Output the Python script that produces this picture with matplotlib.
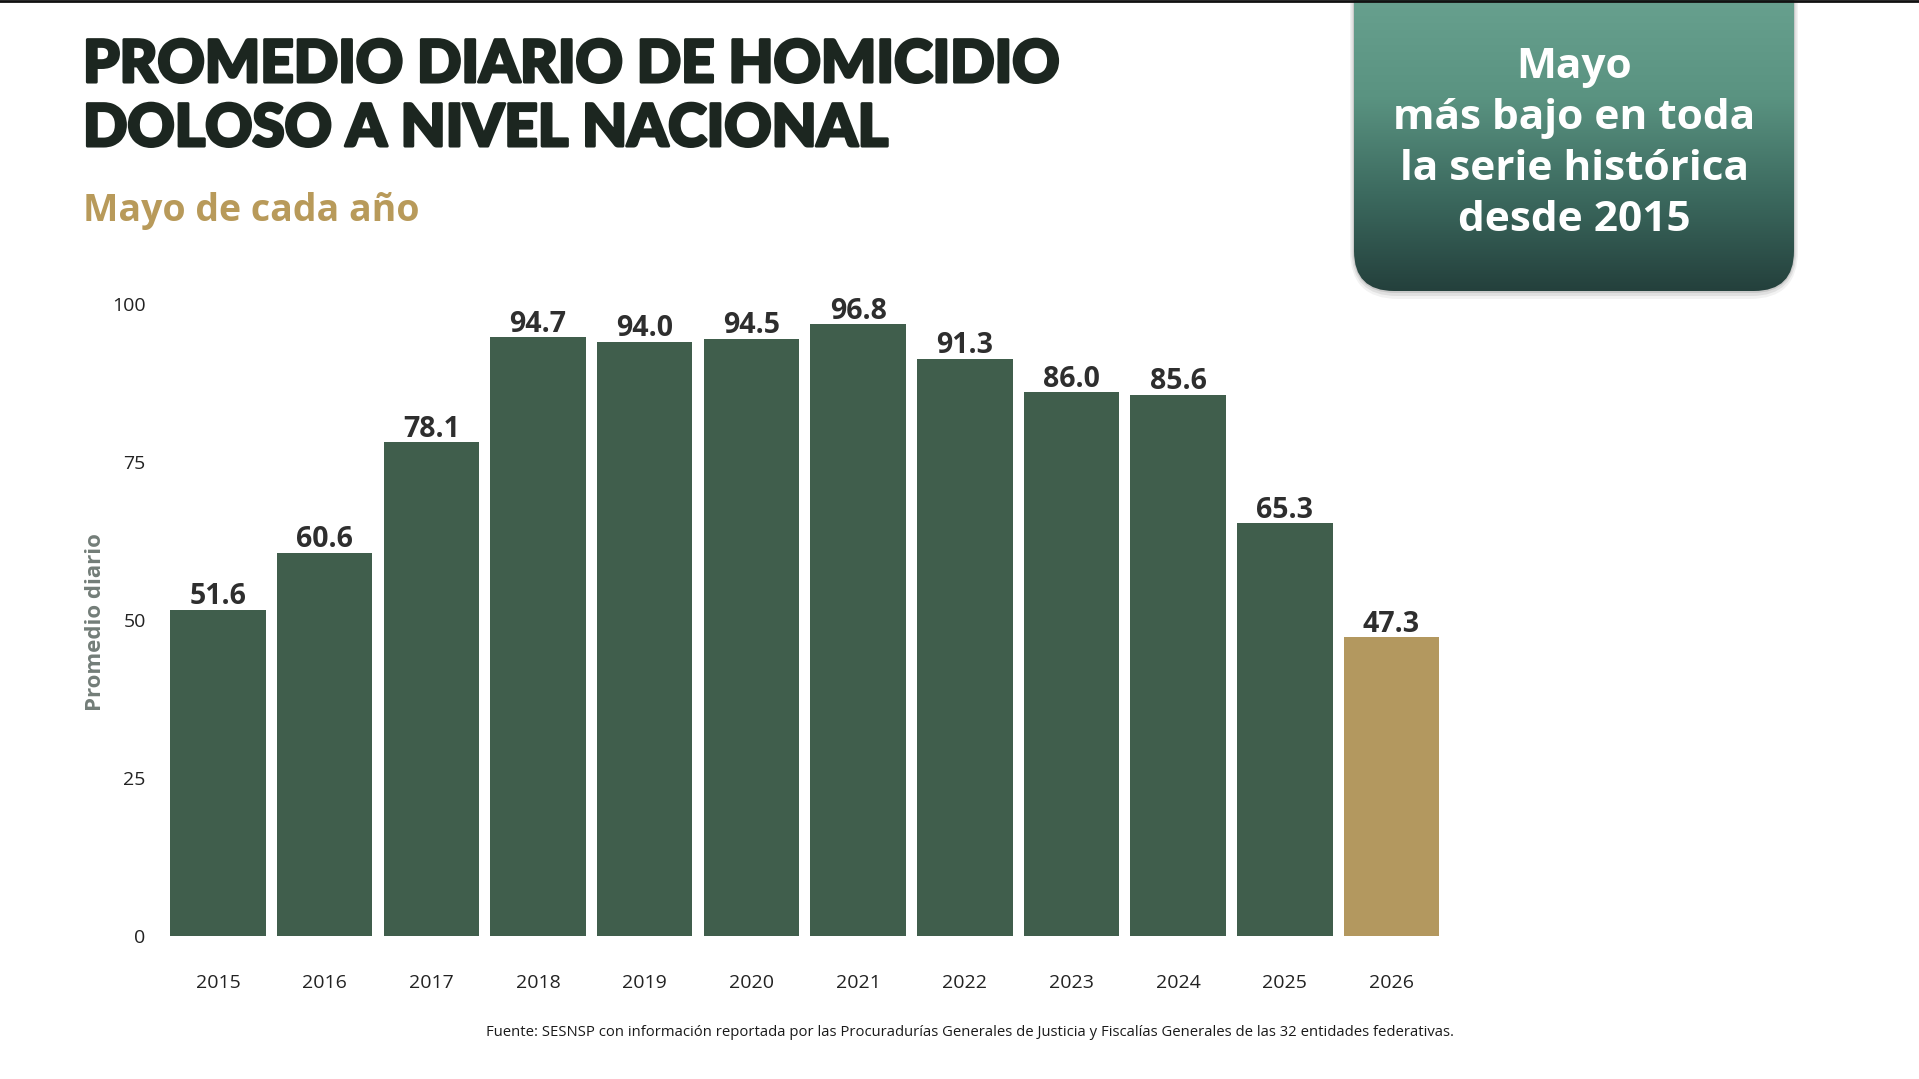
import numpy as np
import matplotlib
matplotlib.use("Agg")
import matplotlib.pyplot as plt
from matplotlib.patches import FancyBboxPatch
from matplotlib.lines import Line2D
from matplotlib.colors import LinearSegmentedColormap
import matplotlib.patheffects as pe

# ---- data ----
years = ["2015", "2016", "2017", "2018", "2019", "2020", "2021", "2022", "2023", "2024", "2025", "2026"]
values = [51.6, 60.6, 78.1, 94.7, 94.0, 94.5, 96.8, 91.3, 86.0, 85.6, 65.3, 47.3]
yticks = [0, 25, 50, 75, 100]

title_lines = ["PROMEDIO DIARIO DE HOMICIDIO", "DOLOSO A NIVEL NACIONAL"]
subtitle = "Mayo de cada año"
box_lines = ["Mayo", "más bajo en toda", "la serie histórica", "desde 2015"]
ylabel = "Promedio diario"
source = ("Fuente: SESNSP con información reportada por las Procuradurías Generales de "
          "Justicia y Fiscalías Generales de las 32 entidades federativas.")

GREEN = "#405e4c"
GOLD = "#b3985f"
W, H = 1919, 1079

plt.rcParams['font.family'] = ['Open Sans', 'DejaVu Sans']
fig = plt.figure(figsize=(W / 100, H / 100), dpi=100)
fig.patch.set_facecolor("white")

# ---- main axes ----
x0, x1 = -0.6, 11.6
pitch = (1391.5 - 218) / 11
left_px = 218 + x0 * pitch
right_px = 218 + x1 * pitch
bot_px, top_px = 936, 304
ax = fig.add_axes([left_px / W, 1 - bot_px / H, (right_px - left_px) / W, (bot_px - top_px) / H])
colors = [GREEN] * (len(values) - 1) + [GOLD]
xs = np.arange(len(years))
ax.bar(xs, values, width=0.895, color=colors, zorder=2)
ax.set_xlim(x0, x1)
ax.set_ylim(0, 100)
ax.set_xticks(xs)
ax.set_xticklabels(years, fontsize=14, color="#222222")
ax.set_yticks(yticks)
ax.set_yticklabels([str(t) for t in yticks], fontsize=14, color="#222222")
ax.tick_params(axis="x", length=0, pad=27.5)
ax.tick_params(axis="y", length=0, pad=6)
for s in ax.spines.values():
    s.set_visible(False)
ax.set_facecolor("none")
for xi, v in zip(xs, values):
    ax.annotate(f"{v:.1f}", (xi, v), xytext=(0, 4), textcoords="offset points",
                ha="center", va="baseline", fontsize=20.5, fontweight="bold", color="#2e2e2e")

fig.text(95 / W, 1 - 622 / H, ylabel, rotation=90, ha="center", va="center",
         fontsize=16, fontweight="bold", color="#737d78")

# ---- titles ----
for i, line in enumerate(title_lines):
    fig.text(83 / W, 1 - (82 + 64 * i) / H, line, ha="left", va="baseline",
             fontsize=42, fontweight="black", color="#1c2620",
             family=["Lato", "DejaVu Sans"],
             path_effects=[pe.withStroke(linewidth=2.2, foreground="#1c2620")])
fig.text(83 / W, 1 - 221.5 / H, subtitle, ha="left", va="baseline",
         fontsize=27, fontweight="bold", color="#b89a5a")

fig.text(970 / W, 1 - 1032 / H, source, ha="center", va="center", fontsize=10.7, color="#1a1a1a")

# top border line
fig.add_artist(Line2D([0, 1], [1 - 1 / H, 1 - 1 / H], transform=fig.transFigure,
                      color="#111111", linewidth=2))

# ---- gradient box ----
bx0, bx1, by1 = 1354, 1794, 291
bw, bh = bx1 - bx0, by1
pad = 12
bax = fig.add_axes([(bx0 - pad) / W, 1 - (bh + pad) / H, (bw + 2 * pad) / W, (bh + pad) / H])
bax.set_xlim(-pad, bw + pad)
bax.set_ylim(-pad, bh)
bax.axis("off")
# shadow
for k, a in [(8, 0.05), (5, 0.07), (2, 0.1)]:
    sh = FancyBboxPatch((-k / 2, -k), bw + k, bh + 60, boxstyle=f"round,pad=0,rounding_size={40 + k}",
                        facecolor="#000000", edgecolor="none", alpha=a)
    bax.add_patch(sh)
clip = FancyBboxPatch((0, 0), bw, bh + 60, boxstyle="round,pad=0,rounding_size=40",
                      facecolor="none", edgecolor="none")
bax.add_patch(clip)
cmap = LinearSegmentedColormap.from_list("g", ["#24403c", "#3c6a5f", "#5a9381", "#67a08e"])
grad = np.linspace(0, 1, 256).reshape(-1, 1)
im = bax.imshow(grad, cmap=cmap, extent=(0, bw, 0, bh), origin="lower", aspect="auto", zorder=3)
im.set_clip_path(clip)
cx = 1574
for i, line in enumerate(box_lines):
    fig.text(cx / W, 1 - (78 + 51 * i) / H, line, ha="center", va="baseline",
             fontsize=30.5, fontweight="bold", color="white", zorder=10)

fig.savefig("out.png", dpi=100, facecolor="white")
